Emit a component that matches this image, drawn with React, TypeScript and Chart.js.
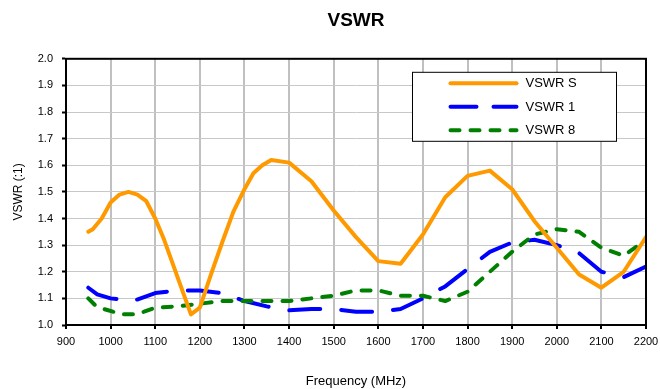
import React, { useEffect, useRef } from "react";
import { Chart, registerables } from "chart.js";

Chart.register(...registerables);

const chartTitle = "VSWR";
const xTitle = "Frequency (MHz)";
const yTitle = "VSWR (:1)";

const seriesNames = ["VSWR S", "VSWR 1", "VSWR 8"];
const seriesColors = ["#FF9900", "#0000FF", "#008000"];

const freqS = [950, 960, 980, 1000, 1020, 1040, 1060, 1080, 1100, 1120, 1180, 1200, 1225, 1250, 1275, 1300, 1320, 1340, 1360, 1400, 1450, 1500, 1550, 1600, 1650, 1700, 1750, 1800, 1850, 1900, 1950, 2000, 2050, 2100, 2150, 2200];
const vswrS = [1.35, 1.36, 1.40, 1.46, 1.49, 1.50, 1.49, 1.465, 1.40, 1.32, 1.04, 1.065, 1.19, 1.31, 1.425, 1.51, 1.57, 1.60, 1.62, 1.61, 1.54, 1.43, 1.33, 1.24, 1.23, 1.34, 1.48, 1.56, 1.58, 1.51, 1.39, 1.29, 1.19, 1.14, 1.20, 1.33];

const freq1 = [950, 970, 1000, 1050, 1100, 1150, 1200, 1250, 1300, 1350, 1400, 1450, 1500, 1550, 1600, 1650, 1700, 1750, 1800, 1850, 1900, 1950, 2000, 2050, 2100, 2150, 2200];
const vswr1 = [1.14, 1.115, 1.10, 1.09, 1.12, 1.13, 1.13, 1.12, 1.09, 1.07, 1.055, 1.06, 1.06, 1.05, 1.05, 1.06, 1.10, 1.145, 1.21, 1.275, 1.31, 1.32, 1.30, 1.27, 1.20, 1.18, 1.22];

const freq8 = [950, 965, 985, 1005, 1025, 1055, 1075, 1100, 1150, 1200, 1250, 1300, 1350, 1400, 1450, 1500, 1550, 1600, 1650, 1700, 1750, 1800, 1850, 1900, 1950, 2000, 2050, 2100, 2150, 2200];
const vswr8 = [1.10, 1.075, 1.06, 1.05, 1.04, 1.04, 1.05, 1.065, 1.07, 1.08, 1.09, 1.09, 1.09, 1.09, 1.10, 1.11, 1.13, 1.13, 1.11, 1.11, 1.09, 1.125, 1.20, 1.275, 1.34, 1.36, 1.35, 1.29, 1.26, 1.32];

const xMin = 900;
const xMax = 2200;
const xStep = 100;
const yMin = 1.0;
const yMax = 2.0;
const yStep = 0.1;

const FONT = "'Liberation Sans', Arial, sans-serif";

const plotDashes = [[], [31, 21], [9, 11]];
const legendDashes = [[], [26, 17], [9, 11]];

const toPoints = (xs: number[], ys: number[]) => xs.map((x, i) => ({ x, y: ys[i] }));

const framePlugin = {
  id: "frameAndLegend",
  afterDatasetsDraw(chart: any) {
    const ctx = chart.ctx;
    const a = chart.chartArea;
    ctx.save();
    ctx.strokeStyle = "#000";
    ctx.lineWidth = 2;
    ctx.strokeRect(a.left, a.top, a.right - a.left, a.bottom - a.top);

    // legend box
    const bx = a.left + 346.5;
    const by = a.top + 13.5;
    const bw = 204;
    const bh = 69;
    ctx.fillStyle = "#fff";
    ctx.fillRect(bx, by, bw, bh);
    ctx.lineWidth = 1;
    ctx.strokeStyle = "#000";
    ctx.strokeRect(bx, by, bw, bh);
    const rows = [11, 34.5, 58];
    ctx.font = `13px ${FONT}`;
    ctx.textBaseline = "middle";
    ctx.textAlign = "left";
    seriesNames.forEach((name, i) => {
      const y = by + rows[i];
      ctx.beginPath();
      ctx.setLineDash(legendDashes[i]);
      ctx.lineCap = "round";
      ctx.lineWidth = 4;
      ctx.strokeStyle = seriesColors[i];
      ctx.moveTo(bx + 38, y);
      ctx.lineTo(bx + 104, y);
      ctx.stroke();
      ctx.setLineDash([]);
      ctx.fillStyle = "#000";
      ctx.fillText(name, bx + 113, y + 0.5);
    });
    ctx.restore();
  },
};

export default function App() {
  const ref = useRef<HTMLCanvasElement | null>(null);

  useEffect(() => {
    if (!ref.current) return;
    Chart.defaults.font.family = FONT;
    Chart.defaults.color = "#000";
    const series = [
      toPoints(freqS, vswrS),
      toPoints(freq1, vswr1),
      toPoints(freq8, vswr8),
    ];
    const drawOrder = [0, 2, 1];
    const chart = new Chart(ref.current, {
      type: "line",
      data: {
        datasets: series.map((pts, i) => ({
          label: seriesNames[i],
          data: pts,
          borderColor: seriesColors[i],
          backgroundColor: seriesColors[i],
          borderWidth: 4,
          borderDash: plotDashes[i],
          borderCapStyle: "round",
          borderJoinStyle: "round",
          pointRadius: 0,
          tension: 0,
          fill: false,
          order: drawOrder[i],
        })),
      },
      options: {
        responsive: false,
        animation: false,
        layout: { padding: { left: 0, right: 14, top: 0, bottom: 0 } },
        plugins: {
          legend: { display: false },
          tooltip: { enabled: false },
          title: {
            display: true,
            text: chartTitle,
            fullSize: false,
            color: "#000",
            font: { size: 19, weight: "bold", family: FONT },
            padding: { top: 9, bottom: 27 },
          },
        },
        scales: {
          x: {
            type: "linear",
            min: xMin,
            max: xMax,
            afterFit: (s: any) => {
              s.height = 64;
              s.paddingLeft = 0;
              s.paddingRight = 0;
            },
            afterBuildTicks: (s: any) => {
              const t = [];
              for (let v = xMin; v <= xMax; v += xStep) t.push({ value: v });
              s.ticks = t;
            },
            ticks: {
              stepSize: xStep,
              font: { size: 11, family: FONT },
              color: "#000",
              padding: 6,
              maxRotation: 0,
              autoSkip: false,
              callback: (v: any) => String(v),
            },
            grid: {
              color: "#c0c0c0",
              lineWidth: 2,
              drawTicks: true,
              tickLength: 4,
              tickColor: "#000",
              tickWidth: 2,
            },
            border: { color: "#000", width: 2 },
            title: {
              display: true,
              text: xTitle,
              color: "#000",
              font: { size: 13, family: FONT },
              padding: { top: 4, bottom: 0 },
            },
          },
          y: {
            type: "linear",
            min: yMin,
            max: yMax,
            afterFit: (s: any) => {
              s.width = 66;
            },
            afterBuildTicks: (s: any) => {
              const t = [];
              for (let i = 0; i <= Math.round((yMax - yMin) / yStep); i++)
                t.push({ value: +(yMin + i * yStep).toFixed(1) });
              s.ticks = t;
            },
            ticks: {
              stepSize: yStep,
              font: { size: 11, family: FONT },
              color: "#000",
              padding: 9,
              autoSkip: false,
              callback: (v: any) => Number(v).toFixed(1),
            },
            grid: {
              color: "#c8c8c8",
              lineWidth: 1,
              drawTicks: true,
              tickLength: 4,
              tickColor: "#000",
              tickWidth: 2,
            },
            border: { color: "#000", width: 2 },
            title: {
              display: true,
              text: yTitle,
              color: "#000",
              font: { size: 12, family: FONT },
              padding: { top: 11, bottom: 0 },
            },
          },
        },
      },
      plugins: [framePlugin],
    } as any);
    return () => chart.destroy();
  }, []);

  return (
    <div style={{ position: "fixed", left: 0, top: 0, width: 660, height: 389, background: "#fff" }}>
      <canvas ref={ref} width={660} height={389} style={{ display: "block", width: 660, height: 389 }} />
    </div>
  );
}
